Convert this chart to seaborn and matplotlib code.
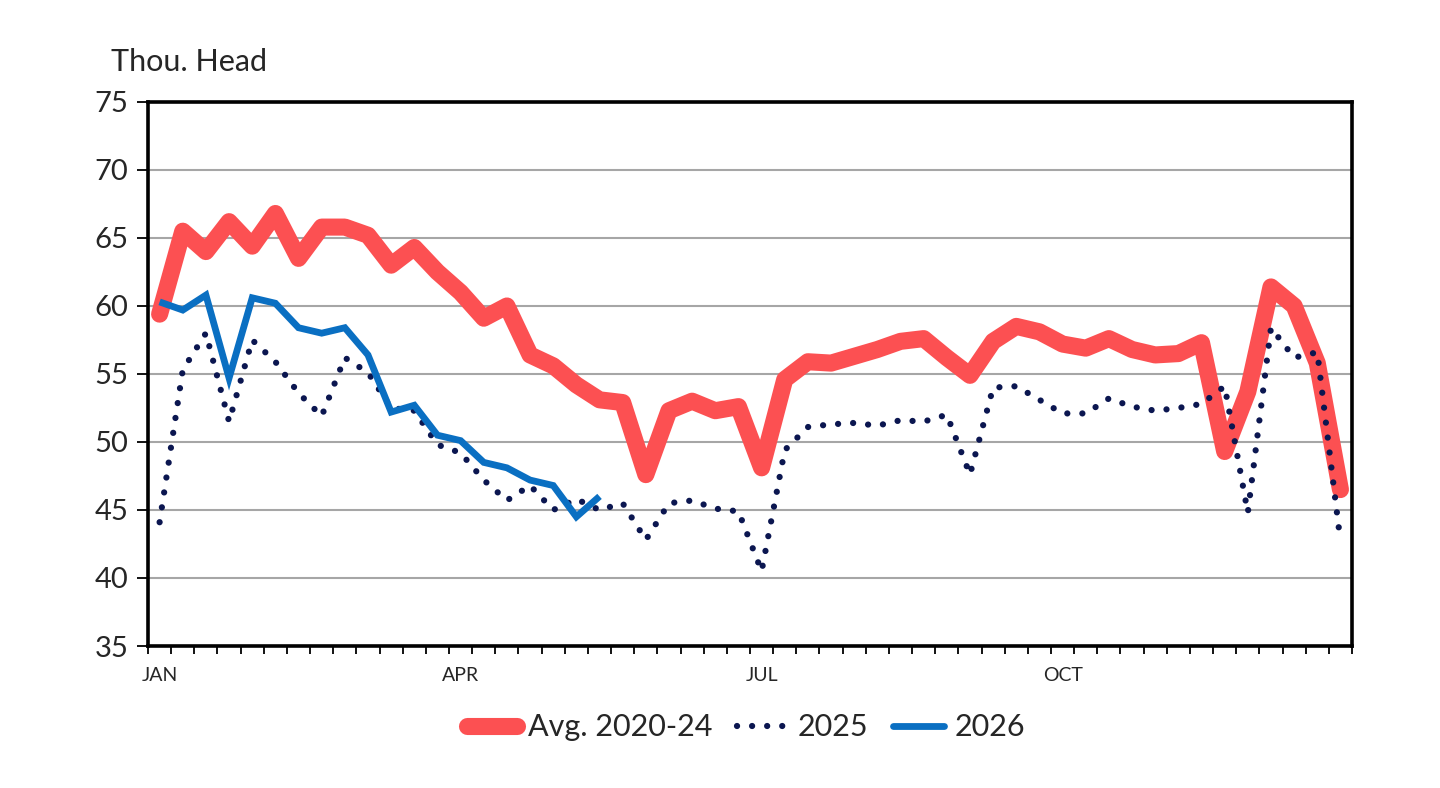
import numpy as np
import pandas as pd
import matplotlib
matplotlib.use("Agg")
import matplotlib.pyplot as plt
from matplotlib.lines import Line2D
import seaborn as sns

weeks = list(range(52))
month_labels = {0: "JAN", 13: "APR", 26: "JUL", 39: "OCT"}

avg_2020_24 = [59.4, 65.5, 64.0, 66.2, 64.4, 66.8, 63.5, 65.8, 65.8, 65.2,
               63.0, 64.3, 62.5, 61.0, 59.1, 60.0, 56.4, 55.6, 54.2, 53.1,
               52.9, 47.6, 52.3, 53.0, 52.3, 52.6, 48.1, 54.6, 55.9, 55.8,
               56.3, 56.8, 57.4, 57.6, 56.2, 54.9, 57.4, 58.5, 58.1, 57.2,
               56.9, 57.6, 56.8, 56.4, 56.5, 57.3, 49.3, 53.7, 61.4, 60.0,
               55.8, 46.5]
y2025 = [44.1, 55.3, 58.0, 51.5, 57.5, 55.9, 53.6, 51.9, 56.2, 55.1,
         52.5, 52.3, 49.8, 49.2, 47.2, 45.7, 46.8, 45.0, 45.8, 45.0,
         45.5, 42.8, 45.5, 45.7, 45.1, 44.9, 40.5, 49.4, 51.1, 51.3,
         51.4, 51.2, 51.6, 51.5, 52.0, 47.6, 54.0, 54.1, 53.1, 52.1,
         52.1, 53.2, 52.6, 52.3, 52.5, 52.8, 54.1, 44.8, 58.4, 56.2,
         56.6, 42.7]
y2026 = [60.3, 59.7, 60.8, 54.7, 60.6, 60.2, 58.4, 58.0, 58.4, 56.4,
         52.2, 52.7, 50.5, 50.1, 48.5, 48.1, 47.2, 46.8, 44.5, 46.0]

red = "#fc5052"
navy = "#0b1650"
blue = "#0a6fc2"

sns.set_theme(style="white")
plt.rcParams['font.family'] = ['Lato', 'DejaVu Sans']

fig = plt.figure(figsize=(14.4, 7.88), dpi=100)
ax = fig.add_axes([0.1028, 0.1802, 0.8361, 0.6904])

df_avg = pd.DataFrame({"week": weeks, "value": avg_2020_24})
df_25 = pd.DataFrame({"week": weeks, "value": y2025})
df_26 = pd.DataFrame({"week": weeks[:len(y2026)], "value": y2026})

dot_style = (0, (0.01, 2.4))

sns.lineplot(data=df_avg, x="week", y="value", ax=ax, color=red, linewidth=12.3,
             solid_capstyle="round", solid_joinstyle="round", zorder=3)
sns.lineplot(data=df_25, x="week", y="value", ax=ax, color=navy, linewidth=4.5,
             linestyle=dot_style, dash_capstyle="round", zorder=4)
sns.lineplot(data=df_26, x="week", y="value", ax=ax, color=blue, linewidth=4.9,
             solid_capstyle="butt", solid_joinstyle="miter", zorder=5)

ax.set_xlim(-0.5, 51.5)
ax.set_ylim(35, 75)
ax.set_yticks(np.arange(35, 76, 5))
ax.yaxis.grid(True, color="#a6a6a6", linewidth=1.5)
ax.xaxis.grid(False)
ax.set_axisbelow(True)

ax.set_xticks(list(month_labels.keys()))
ax.set_xticklabels(list(month_labels.values()))
ax.set_xticks(np.arange(-0.5, 52, 1), minor=True)
ax.tick_params(axis="x", which="major", length=0, pad=15, labelsize=14)
ax.tick_params(axis="x", which="minor", length=6, width=1.3, color="black", bottom=True)
ax.tick_params(axis="y", which="major", length=8, width=1.3, color="black", left=True,
               labelsize=21, pad=6)
ax.set_xlabel("")
ax.set_ylabel("")

for s in ax.spines.values():
    s.set_color("black")
    s.set_linewidth(2.6)

fig.text(0.077, 0.903, "Thou. Head", fontsize=22, ha="left", va="bottom")

handles = [
    Line2D([0], [0], color=red, linewidth=12.3, solid_capstyle="round"),
    Line2D([0], [0], color=navy, linewidth=4.5, linestyle=dot_style, dash_capstyle="round"),
    Line2D([0], [0], color=blue, linewidth=4.9),
]
fig.legend(handles, ["Avg. 2020-24", "2025", "2026"], loc="center",
           bbox_to_anchor=(0.518, 0.077), ncol=3, frameon=False, fontsize=22,
           handlelength=1.65, handletextpad=0.35, columnspacing=0.8)

fig.savefig("out.png", dpi=100)
